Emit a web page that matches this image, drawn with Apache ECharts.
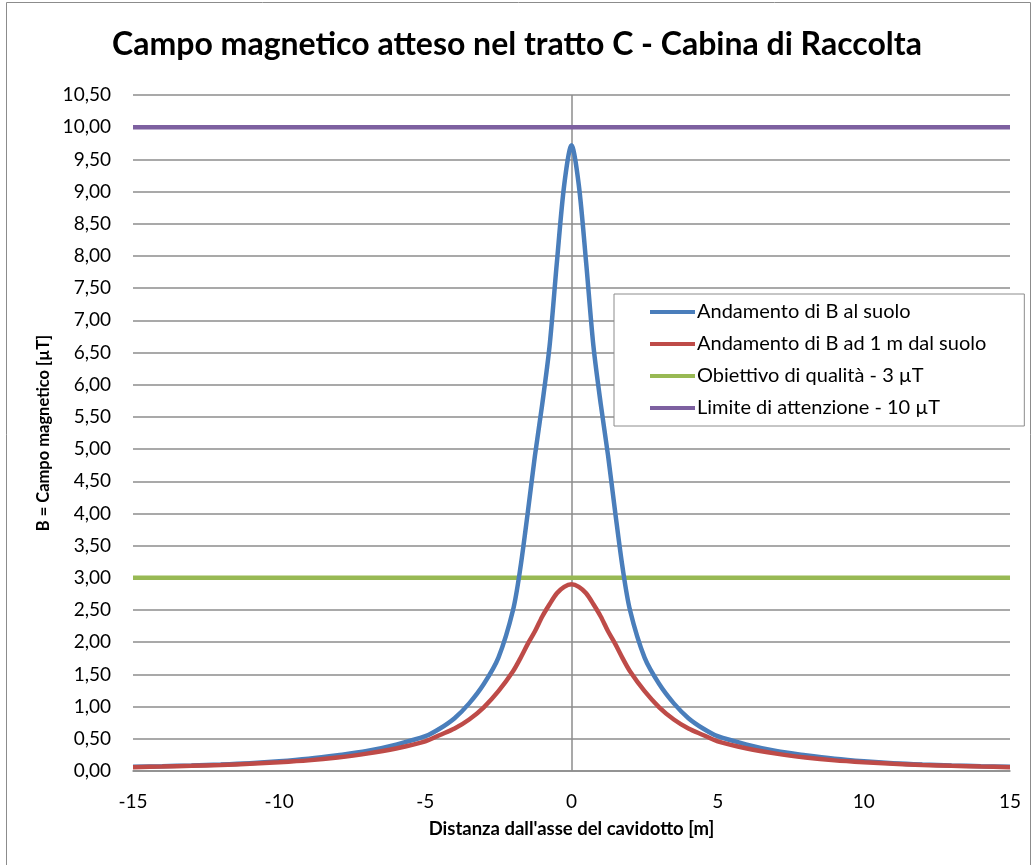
<!DOCTYPE html>
<html>
<head>
<meta charset="utf-8">
<script src="https://cdn.jsdelivr.net/npm/echarts@6/dist/echarts.min.js"></script>
<style>
html,body{margin:0;padding:0;background:#fff;}
#chart{width:1034px;height:865px;}
</style>
</head>
<body>
<div id="chart"></div>
<script>
// Distances from the cable axis [m]
const xValues = [-15,-14,-13,-12,-11,-10,-9,-8,-7,-6,-5,-4.5,-4,-3.5,-3,-2.5,-2,-1.75,-1.5,-1.25,-1,-0.75,-0.5,-0.25,0,0.25,0.5,0.75,1,1.25,1.5,1.75,2,2.5,3,3.5,4,4.5,5,6,7,8,9,10,11,12,13,14,15];
// B at ground level [µT]
const blueValues = [0.065,0.074,0.086,0.1,0.12,0.15,0.19,0.245,0.31,0.41,0.54,0.66,0.82,1.05,1.35,1.76,2.5,3.15,4.0,4.9,5.7,6.6,7.9,9.1,9.72,9.1,7.9,6.6,5.7,4.9,4.0,3.15,2.5,1.76,1.35,1.05,0.82,0.66,0.54,0.41,0.31,0.245,0.19,0.15,0.12,0.1,0.086,0.074,0.065];
// B at 1 m above ground [µT]
const redValues = [0.06,0.069,0.08,0.094,0.112,0.135,0.165,0.21,0.27,0.35,0.46,0.56,0.66,0.8,0.99,1.24,1.55,1.75,1.97,2.17,2.4,2.59,2.76,2.86,2.9,2.86,2.76,2.59,2.4,2.17,1.97,1.75,1.55,1.24,0.99,0.8,0.66,0.56,0.46,0.35,0.27,0.21,0.165,0.135,0.112,0.094,0.08,0.069,0.06];
// Reference limits
const limitX = [-15, 15];
const qualityValue = 3;
const attentionValue = 10;
const seriesNames = ['Andamento di B al suolo','Andamento di B ad 1 m dal suolo','Obiettivo di qualità - 3 µT','Limite di attenzione - 10 µT'];
const titleText = 'Campo magnetico atteso nel tratto C - Cabina di Raccolta';
const yName = 'B = Campo magnetico [µT]';
const xName = "Distanza dall'asse del cavidotto [m]";

const FONT = 'Lato';
const pair = (xs, ys) => xs.map((x, i) => [x, ys[i]]);

const chart = echarts.init(document.getElementById('chart'));
chart.setOption({
  animation: false,
  backgroundColor: '#ffffff',
  textStyle: {fontFamily: FONT},
  graphic: [{
    type: 'rect', silent: true,
    shape: {x: 6.5, y: 2.5, width: 1024, height: 900},
    style: {fill: 'none', stroke: '#8c8c8c', lineWidth: 1}
  }],
  title: {
    text: titleText, left: 'center', top: 24,
    textStyle: {fontFamily: FONT, fontWeight: 'bold', fontSize: 32, color: '#000'}
  },
  grid: {left: 133, right: 24, top: 95, bottom: 94, containLabel: false},
  legend: {
    orient: 'vertical', left: 614, top: 294,
    backgroundColor: '#fff', borderColor: '#8c8c8c', borderWidth: 1,
    padding: [8, 38, 8, 36],
    itemWidth: 45, itemHeight: 4, itemGap: 12,
    icon: 'rect',
    textStyle: {fontFamily: FONT, fontSize: 20, color: '#000', lineHeight: 20, padding: [0,0,0,-3]},
    data: seriesNames
  },
  xAxis: {
    type: 'value', min: -15, max: 15, interval: 5,
    name: xName, nameLocation: 'middle', nameGap: 49,
    nameTextStyle: {fontFamily: FONT, fontWeight: 'bold', fontSize: 18.5, color: '#000'},
    axisLine: {onZero: false, lineStyle: {color: '#8c8c8c', width: 1.5}},
    axisTick: {show: false},
    splitLine: {show: false},
    axisLabel: {fontFamily: FONT, fontSize: 19, color: '#000', margin: 21}
  },
  yAxis: {
    type: 'value', min: 0, max: 10.5, interval: 0.5,
    name: yName, nameLocation: 'middle', nameGap: 80, nameRotate: 90,
    nameTextStyle: {fontFamily: FONT, fontWeight: 'bold', fontSize: 16.5, color: '#000'},
    axisLine: {show: false},
    axisTick: {show: false},
    splitLine: {show: true, lineStyle: {color: '#8c8c8c', width: 1.5}},
    axisLabel: {fontFamily: FONT, fontSize: 19, color: '#000', margin: 22,
      formatter: v => v.toFixed(2).replace('.', ',')}
  },
  series: [
    {
      name: seriesNames[0], type: 'line', data: pair(xValues, blueValues),
      smooth: 0.3, showSymbol: false, z: 4,
      lineStyle: {color: '#4a7ebb', width: 4.5}, itemStyle: {color: '#4a7ebb'},
      markLine: {
        silent: true, symbol: 'none', label: {show: false},
        lineStyle: {color: '#8c8c8c', width: 1.5, type: 'solid'},
        data: [{xAxis: 0}], z: 1
      }
    },
    {
      name: seriesNames[1], type: 'line', data: pair(xValues, redValues),
      smooth: 0.3, showSymbol: false, z: 5,
      lineStyle: {color: '#be4b48', width: 4.5}, itemStyle: {color: '#be4b48'}
    },
    {
      name: seriesNames[2], type: 'line', data: pair(limitX, [qualityValue, qualityValue]),
      showSymbol: false, z: 3,
      lineStyle: {color: '#98b954', width: 4.5}, itemStyle: {color: '#98b954'}
    },
    {
      name: seriesNames[3], type: 'line', data: pair(limitX, [attentionValue, attentionValue]),
      showSymbol: false, z: 3,
      lineStyle: {color: '#7d60a0', width: 4.5}, itemStyle: {color: '#7d60a0'}
    }
  ]
});
</script>
</body>
</html>
